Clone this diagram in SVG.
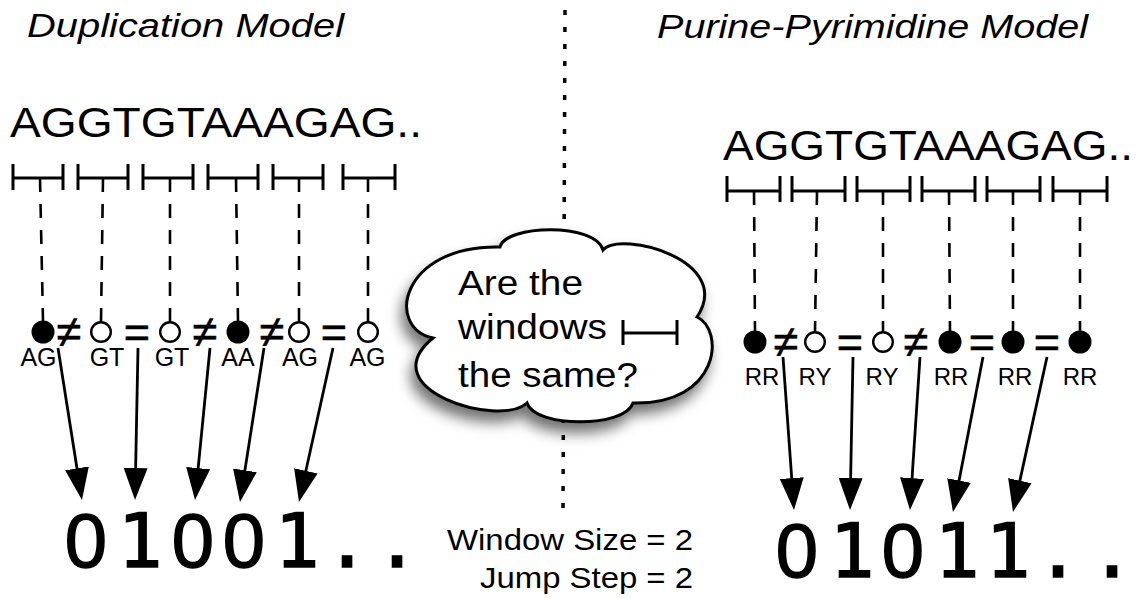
<svg xmlns="http://www.w3.org/2000/svg" width="1145" height="599" viewBox="0 0 1145 599">
<style>
.title{font-family:"Liberation Sans",Arial,sans-serif;font-style:italic;font-size:33px;fill:#000}
.seq{font-family:"Liberation Sans",Arial,sans-serif;font-size:42px;fill:#000}
.lbl{font-family:"Liberation Sans",Arial,sans-serif;font-size:25px;fill:#000;text-anchor:middle}
.lblr{font-family:"Liberation Sans",Arial,sans-serif;font-size:24px;fill:#000;text-anchor:middle}
.sym{font-family:"Liberation Sans",Arial,sans-serif;font-size:45px;fill:#000;stroke:#000;stroke-width:0.6;text-anchor:middle}
.bits{font-family:"DejaVu Sans Mono",monospace;font-size:75px;fill:#000;stroke:#000;stroke-width:1.4;text-anchor:middle}
.zero{font-family:"Liberation Sans",Arial,sans-serif;font-size:76px}
.cloudtxt{font-family:"Liberation Sans",Arial,sans-serif;font-size:35px;fill:#000}
.note{font-family:"Liberation Sans",Arial,sans-serif;font-size:30px;fill:#000}
.br{fill:none;stroke:#000;stroke-width:3}
.dash{fill:none;stroke:#000;stroke-width:2.6;stroke-dasharray:14 12}
.fill{fill:#000}
.open{fill:#fff;stroke:#000;stroke-width:2.4}
.arr{fill:none;stroke:#000;stroke-width:2.8;marker-end:url(#ah)}
.dots{fill:none;stroke:#000;stroke-width:3.5;stroke-dasharray:5 12}
</style>
<defs>
<marker id="ah" markerUnits="userSpaceOnUse" markerWidth="32" markerHeight="24" refX="4" refY="12" orient="auto">
<path d="M0,0 L32,12 L0,24 z" fill="#000"/>
</marker>
<filter id="sh" x="-20%" y="-20%" width="140%" height="150%">
<feDropShadow dx="-4" dy="10" stdDeviation="7" flood-color="#000" flood-opacity="0.55"/>
</filter>
</defs>
<rect x="0" y="0" width="1145" height="599" fill="#fff"/>

<g id="divider">
<line class="dots" x1="565" y1="10" x2="563" y2="512"/>
</g>

<g id="titles">
<text class="title" x="27" y="37" textLength="317" lengthAdjust="spacingAndGlyphs">Duplication Model</text>
<text class="title" x="657" y="38" textLength="431" lengthAdjust="spacingAndGlyphs">Purine-Pyrimidine Model</text>
</g>

<g id="left-sequence">
<text class="seq" x="10" y="137" textLength="412" lengthAdjust="spacingAndGlyphs">AGGTGTAAAGAG..</text>
</g>
<g id="right-sequence">
<text class="seq" x="723" y="160" textLength="410" lengthAdjust="spacingAndGlyphs">AGGTGTAAAGAG..</text>
</g>

<g id="left-windows">
<path class="br" d="M13,178H63M13,164V190M63,164V190 M78,178H128M78,164V190M128,164V190 M143,178H193M143,164V190M193,164V190 M208,178H258M208,164V190M258,164V190 M273,178H323M273,164V190M323,164V190 M343,178H395M343,164V190M395,164V190"/>
<line class="dash" x1="40" y1="178" x2="43" y2="321"/>
<line class="dash" x1="103" y1="178" x2="101" y2="322"/>
<line class="dash" x1="170" y1="178" x2="170" y2="322"/>
<line class="dash" x1="236" y1="178" x2="238" y2="321"/>
<line class="dash" x1="299" y1="178" x2="299" y2="322"/>
<line class="dash" x1="368" y1="178" x2="368" y2="322"/>
</g>

<g id="right-windows">
<path class="br" d="M727,191H780M727,176V202M780,176V202 M792,191H845M792,176V202M845,176V202 M857,191H910M857,176V202M910,176V202 M922,191H975M922,176V202M975,176V202 M987,191H1040M987,176V202M1040,176V202 M1053,191H1107M1053,176V202M1107,176V202"/>
<line class="dash" x1="754" y1="191" x2="755" y2="331"/>
<line class="dash" x1="817" y1="191" x2="815" y2="332"/>
<line class="dash" x1="883" y1="191" x2="883" y2="332"/>
<line class="dash" x1="949" y1="191" x2="950" y2="331"/>
<line class="dash" x1="1013" y1="191" x2="1013" y2="331"/>
<line class="dash" x1="1080" y1="191" x2="1080" y2="331"/>
</g>

<g id="left-nodes">
<circle class="fill" cx="43" cy="332" r="11.5"/>
<circle class="open" cx="101" cy="332" r="9.8"/>
<circle class="open" cx="170" cy="332" r="9.8"/>
<circle class="fill" cx="238" cy="332" r="11.5"/>
<circle class="open" cx="299" cy="332" r="9.8"/>
<circle class="open" cx="368" cy="332" r="9.8"/>
<text class="sym" x="69" y="347">≠</text>
<text class="sym" x="137" y="347">=</text>
<text class="sym" x="205" y="347">≠</text>
<text class="sym" x="272" y="347">≠</text>
<text class="sym" x="334" y="347">=</text>
<text class="lbl" x="38.5" y="366">AG</text>
<text class="lbl" x="107" y="366">GT</text>
<text class="lbl" x="172" y="366">GT</text>
<text class="lbl" x="238" y="366">AA</text>
<text class="lbl" x="300" y="366">AG</text>
<text class="lbl" x="367.5" y="366">AG</text>
</g>

<g id="right-nodes">
<circle class="fill" cx="755" cy="342" r="11.5"/>
<circle class="open" cx="815" cy="342" r="9.8"/>
<circle class="open" cx="883" cy="342" r="9.8"/>
<circle class="fill" cx="950" cy="342" r="11.5"/>
<circle class="fill" cx="1013" cy="342" r="11.5"/>
<circle class="fill" cx="1080" cy="342" r="11.5"/>
<text class="sym" x="786" y="357">≠</text>
<text class="sym" x="850" y="357">=</text>
<text class="sym" x="916" y="357">≠</text>
<text class="sym" x="982" y="357">=</text>
<text class="sym" x="1047" y="357">=</text>
<text class="lblr" x="762" y="385">RR</text>
<text class="lblr" x="815" y="385">RY</text>
<text class="lblr" x="882" y="385">RY</text>
<text class="lblr" x="951" y="385">RR</text>
<text class="lblr" x="1015" y="385">RR</text>
<text class="lblr" x="1080" y="385">RR</text>
</g>

<g id="connectors">
<line class="arr" x1="58" y1="348" x2="77.6" y2="472.3"/>
<line class="arr" x1="138" y1="348" x2="135.55" y2="472"/>
<line class="arr" x1="210" y1="348" x2="197.75" y2="472.1"/>
<line class="arr" x1="264" y1="348" x2="244.3" y2="474.3"/>
<line class="arr" x1="333" y1="348" x2="305" y2="474.7"/>
<line class="arr" x1="783" y1="357" x2="792" y2="482.1"/>
<line class="arr" x1="853" y1="357" x2="850.55" y2="482"/>
<line class="arr" x1="920" y1="357" x2="911.8" y2="482.1"/>
<line class="arr" x1="983" y1="357" x2="958.3" y2="484.5"/>
<line class="arr" x1="1047" y1="357" x2="1019" y2="484.6"/>
</g>

<g id="left-bits">
<text class="bits" x="86 140 193 244 297 347 397" y="567"><tspan class="zero">0</tspan>1<tspan class="zero">00</tspan>1..</text>
</g>
<g id="right-bits">
<text class="bits" x="797 852 903 957 1008 1058 1112" y="577"><tspan class="zero">0</tspan>1<tspan class="zero">0</tspan>11..</text>
</g>

<g id="cloud">
<path d="M433,338 C385,328 400,245 500,247 C505,225 595,222 603,250 C620,230 735,260 697,317 C725,330 720,405 633,403 C625,428 535,428 527,403 C500,428 370,390 433,338 Z" fill="#fff" stroke="#000" stroke-width="3" filter="url(#sh)"/>
<text class="cloudtxt" x="458" y="295" textLength="125" lengthAdjust="spacingAndGlyphs">Are the</text>
<text class="cloudtxt" x="458" y="339" textLength="149" lengthAdjust="spacingAndGlyphs">windows</text>
<text class="cloudtxt" x="458" y="387" textLength="180" lengthAdjust="spacingAndGlyphs">the same?</text>
<path class="br" d="M623,333H677M623,320V345M677,320V345" stroke-width="2.6"/>
</g>

<g id="params">
<text class="note" x="447" y="550" textLength="246" lengthAdjust="spacingAndGlyphs">Window Size = 2</text>
<text class="note" x="480" y="588" textLength="213" lengthAdjust="spacingAndGlyphs">Jump Step = 2</text>
</g>
</svg>
